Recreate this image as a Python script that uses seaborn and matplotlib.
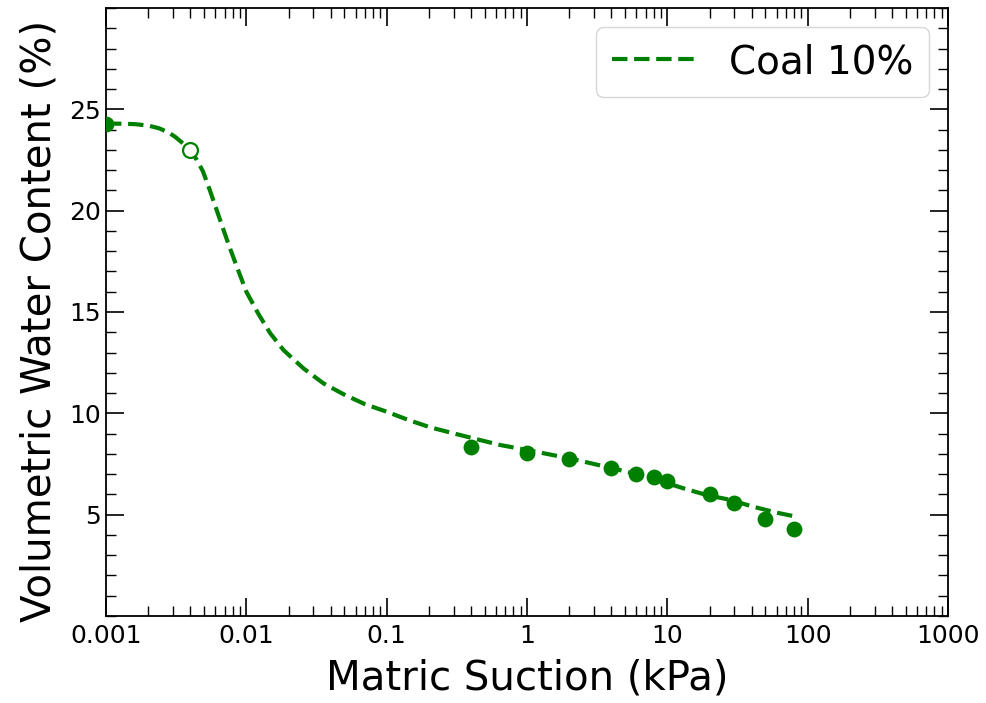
import matplotlib
matplotlib.use("Agg")
import matplotlib.pyplot as plt
import matplotlib.ticker as mticker
import seaborn as sns
import pandas as pd

# Fitted soil-water characteristic curve (suction in kPa, VWC in %)
curve_suction = [0.001, 0.0013, 0.0016, 0.002, 0.0024, 0.0028, 0.0031, 0.0034,
                 0.0037, 0.004, 0.0044, 0.0049, 0.0055, 0.0065, 0.0075, 0.0087,
                 0.01, 0.0122, 0.0148, 0.0184, 0.0255, 0.0354, 0.049,
                 0.07, 0.1, 0.143, 0.204, 0.3, 0.44, 0.64, 1.0, 2.0, 4.0,
                 6.0, 10.0, 13.0, 19.0, 27.6, 41.0, 60.0, 80.0]
curve_vwc = [24.3, 24.29, 24.27, 24.2, 24.06, 23.85, 23.65, 23.42,
             23.2, 22.96, 22.55, 21.95, 21.0, 19.54, 18.3, 17.1,
             16.0, 14.9, 13.95, 13.12, 12.22, 11.48, 10.95,
             10.45, 10.08, 9.67, 9.31, 9.01, 8.72, 8.44, 8.19, 7.78, 7.3,
             7.0, 6.55, 6.3, 5.97, 5.74, 5.39, 5.1, 4.92]

# Measured points
meas_suction = [0.001, 0.4, 1, 2, 4, 6, 8, 10, 20, 30, 50, 80]
meas_vwc = [24.3, 8.33, 8.04, 7.75, 7.32, 7.0, 6.84, 6.66, 6.0, 5.56, 4.8, 4.31]

# Air-entry point
aev_suction = [0.004]
aev_vwc = [23.0]

# Axis ticks
x_ticks = [0.001, 0.01, 0.1, 1, 10, 100, 1000]
x_tick_labels = ["0.001", "0.01", "0.1", "1", "10", "100", "1000"]
y_ticks = [5, 10, 15, 20, 25]

series_label = "Coal 10%"
color = "green"

sns.set_theme(style="white")
plt.rcParams["font.family"] = ["DejaVu Sans"]
plt.rcParams["text.color"] = "black"
plt.rcParams["axes.labelcolor"] = "black"

fig = plt.figure(figsize=(9.87, 7.03), dpi=100)
ax = fig.add_axes([0.1074, 0.1238, 0.8531, 0.8648])

curve_df = pd.DataFrame({"suction": curve_suction, "vwc": curve_vwc})
meas_df = pd.DataFrame({"suction": meas_suction, "vwc": meas_vwc})
aev_df = pd.DataFrame({"suction": aev_suction, "vwc": aev_vwc})

sns.lineplot(data=curve_df, x="suction", y="vwc", ax=ax, color=color,
             linestyle="--", linewidth=3, label=series_label, sort=False)
sns.scatterplot(data=meas_df, x="suction", y="vwc", ax=ax, color=color,
                s=130, edgecolor=color, linewidth=0, legend=False, zorder=3)
sns.scatterplot(data=aev_df, x="suction", y="vwc", ax=ax, facecolor="white",
                edgecolor=color, s=115, linewidth=1.6, legend=False, zorder=4)

ax.set_xscale("log")
ax.set_xticks(x_ticks)
ax.set_xticklabels(x_tick_labels)
ax.xaxis.set_minor_locator(mticker.LogLocator(base=10, subs=range(2, 10), numticks=12))
ax.xaxis.set_minor_formatter(mticker.NullFormatter())
ax.set_xlim(0.001, 1000)
ax.set_ylim(0, 30)
ax.set_yticks(y_ticks)
ax.yaxis.set_minor_locator(mticker.MultipleLocator(1))

ax.tick_params(which="both", direction="in", top=True, right=True,
               bottom=True, left=True, colors="black", labelsize=18)
ax.tick_params(which="major", length=13, width=1.2)
ax.tick_params(which="minor", length=7, width=1.0)
ax.tick_params(axis="x", which="major", pad=6)
for sp in ax.spines.values():
    sp.set_color("black")
    sp.set_linewidth(1.3)

ax.set_xlabel("Matric Suction (kPa)", fontsize=29)
ax.set_ylabel("Volumetric Water Content (%)", fontsize=29)
ax.xaxis.set_label_coords(0.5, -0.07)
ax.yaxis.set_label_coords(-0.055, 0.485)

leg = ax.legend(loc="upper right", fontsize=28, frameon=True, handlelength=2.2)
for t in leg.get_texts():
    t.set_color("black")

fig.savefig("out.png", dpi=100)
